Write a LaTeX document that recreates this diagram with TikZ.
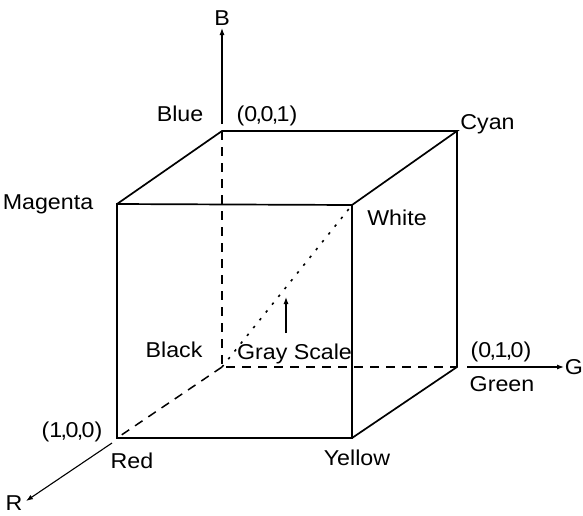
\documentclass[tikz,border=0pt]{standalone}
\usepackage{fontspec}
\setmainfont{Liberation Sans}[FakeStretch=1.08]
\usetikzlibrary{arrows.meta}
\newcommand{\tc}{\kern-1.6pt,\kern-1.6pt}
\begin{document}
\begin{tikzpicture}[x=1pt,y=-1pt,
  edge/.style={line width=1.7pt},
  hid/.style={line width=1.5pt, dash pattern=on 9pt off 7pt},
  diag/.style={line width=1.6pt, dash pattern=on 2.5pt off 7.5pt},
  ax/.style={line width=1.1pt,-{Latex[length=7pt,width=5pt]}},
  lab/.style={font=\fontsize{21.5}{24}\selectfont, inner sep=0pt, anchor=base}]
\useasboundingbox (0,0) rectangle (583,515);
% corners
\coordinate (red) at (117,438);
\coordinate (yellow) at (352,438);
\coordinate (white) at (352,205);
\coordinate (magenta) at (117,204);
\coordinate (black) at (222,367);
\coordinate (green) at (457,367);
\coordinate (cyan) at (457,131);
\coordinate (blue) at (222,131);
% axis end points
\coordinate (bstart) at (222,124);
\coordinate (btip) at (222,28);
\coordinate (gstart) at (467,367);
\coordinate (gtip) at (564,367);
\coordinate (rstart) at (112,443);
\coordinate (rtip) at (26,501);
\coordinate (gsstart) at (286,333);
\coordinate (gstip) at (286,297);
% hidden edges
\draw[hid] (blue) -- (black) -- (green);
\draw[hid] (black) -- (red);
\draw[diag] (black) -- (white);
% visible edges
\draw[edge] (red) -- (yellow) -- (white) -- (magenta) -- cycle;
\draw[edge] (magenta) -- (blue) -- (cyan) -- (white);
\draw[edge] (cyan) -- (green) -- (yellow);
% axes
\draw[ax] (bstart) -- (btip);
\draw[ax] (gstart) -- (gtip);
\draw[ax] (rstart) -- (rtip);
\draw[ax] (gsstart) -- (gstip);
% labels
\node[lab] (lB) at (222,25) {B};
\node[lab] (lG) at (574,374.5) {G};
\node[lab] (lR) at (14,510) {R};
\node[lab] (lblue) at (180,121) {Blue};
\node[lab] (l001) at (267,121) {(0\tc0\tc1)};
\node[lab] (lcyan) at (487.5,129) {Cyan};
\node[lab] (lmagenta) at (48,209.5) {Magenta};
\node[lab] (lwhite) at (397,225.5) {White};
\node[lab] (lblack) at (174,357) {Black};
\node[lab] (lgray) at (294.5,359) {Gray Scale};
\node[lab] (l010) at (501,357) {(0\tc1\tc0)};
\node[lab] (lgreen) at (502,391.5) {Green};
\node[lab] (l100) at (72,437) {(1\tc0\tc0)};
\node[lab] (lred) at (132,468.5) {Red};
\node[lab] (lyellow) at (357,465.5) {Yellow};
\end{tikzpicture}
\end{document}
